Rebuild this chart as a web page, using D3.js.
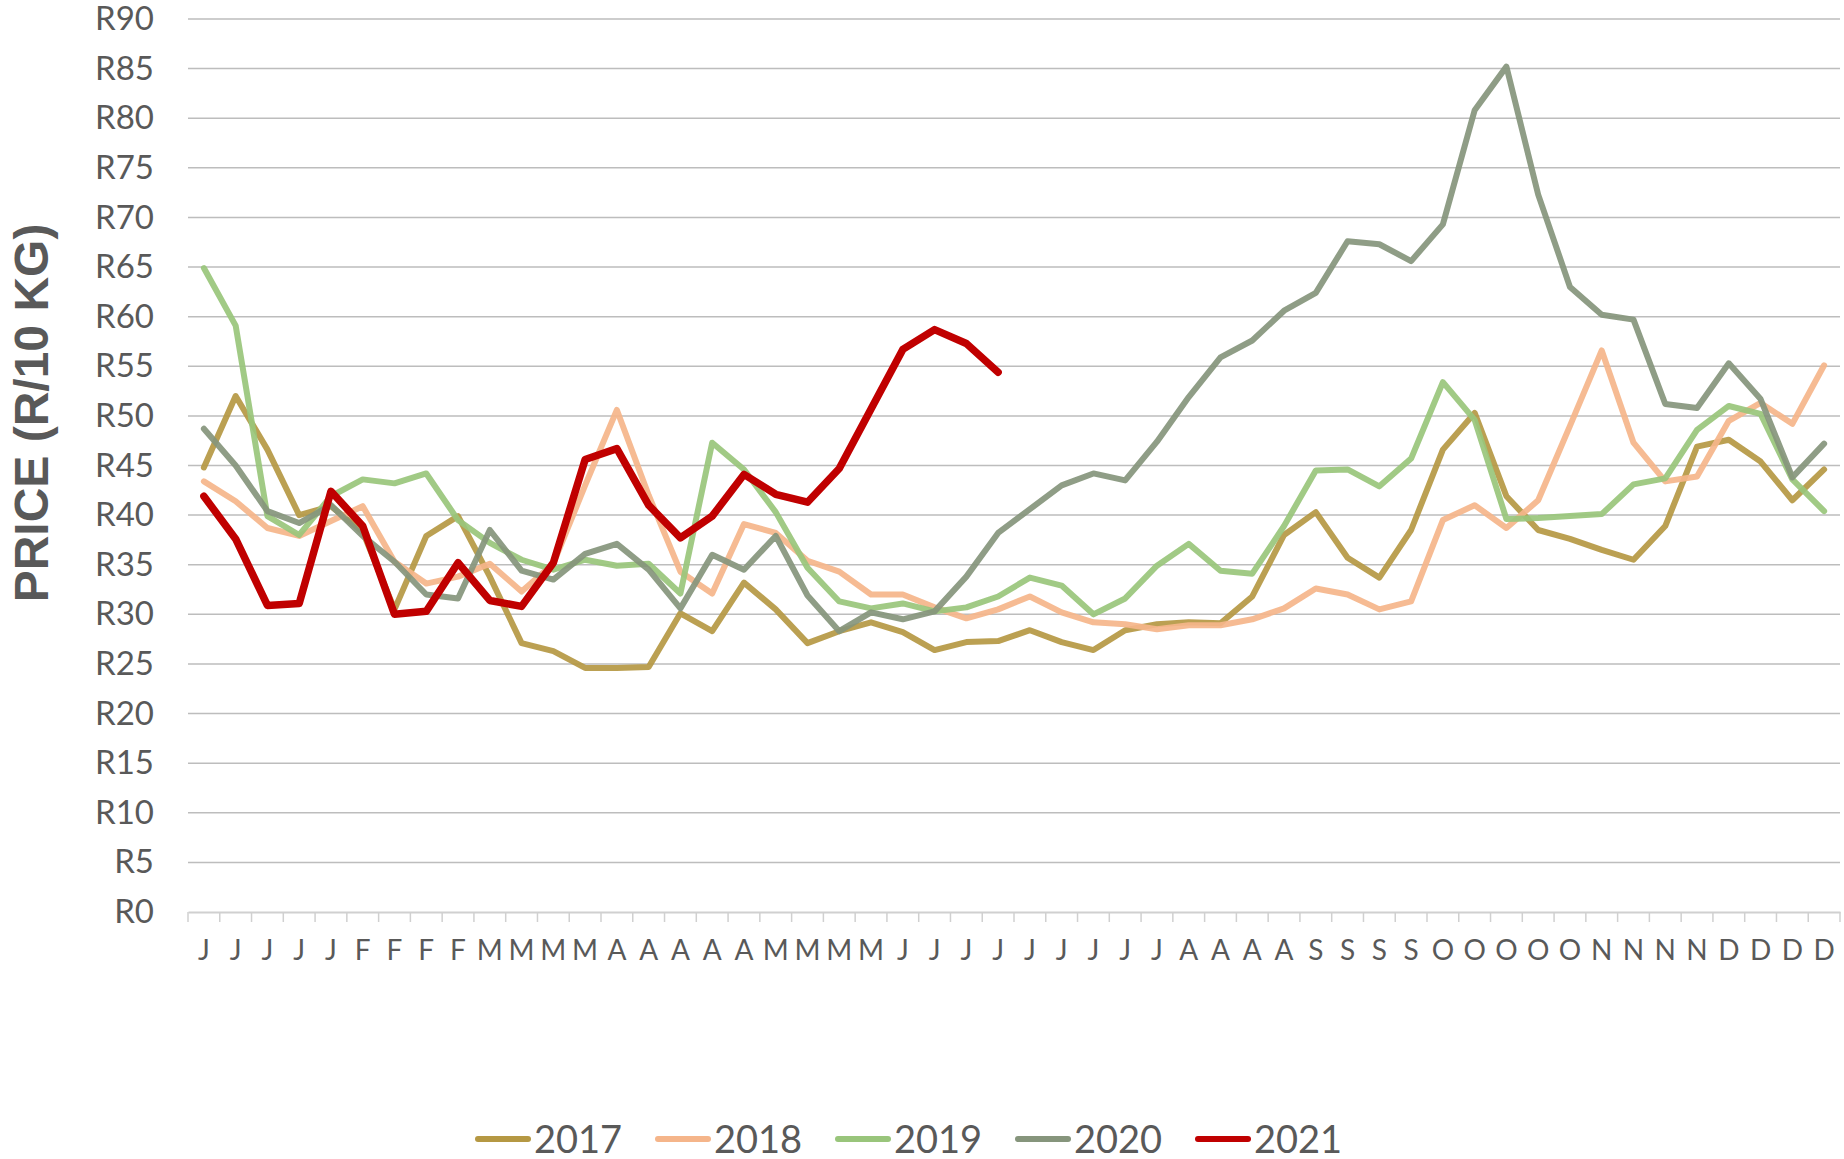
<!DOCTYPE html>
<html lang="en">

<head>
  <meta charset="UTF-8">
  <title>Weekly price R/10 kg, 2017-2021</title>
  <script src="https://d3js.org/d3.v7.min.js"></script>
  <style>
    html,
    body {
      margin: 0;
      background: #fff;
      font-family: Lato, "Open Sans", sans-serif;
    }

    svg text {
      fill: #595959;
    }
  </style>
</head>

<body>
  <svg id="chart" width="1844" height="1159"></svg>

  <script>
    const weekLabels = [
      "J", "J", "J", "J", "J", "F", "F", "F", "F", "M", "M", "M", "M",
      "A", "A", "A", "A", "A", "M", "M", "M", "M",
      "J", "J", "J", "J", "J", "J", "J", "J", "J",
      "A", "A", "A", "A", "S", "S", "S", "S", "O", "O", "O", "O", "O",
      "N", "N", "N", "N", "D", "D", "D", "D"
    ];

    const years = ["2017", "2018", "2019", "2020", "2021"];

    const p2017 = [44.8, 52.0, 46.6, 40.0, 40.9, 38.3, 30.5, 37.9, 39.9, 33.8, 27.1, 26.3, 24.6, 24.6, 24.7, 30.1, 28.3, 33.2, 30.5, 27.1, 28.3, 29.2, 28.2, 26.4, 27.2, 27.3, 28.4, 27.2, 26.4, 28.4, 29.0, 29.2, 29.1, 31.8, 38.0, 40.3, 35.7, 33.7, 38.5, 46.6, 50.3, 41.9, 38.5, 37.6, 36.5, 35.5, 38.9, 46.9, 47.6, 45.4, 41.5, 44.6];
    const p2018 = [43.4, 41.4, 38.7, 37.9, 39.4, 40.9, 35.3, 33.1, 33.8, 35.1, 32.3, 35.1, 43.0, 50.6, 42.0, 34.3, 32.1, 39.1, 38.2, 35.4, 34.3, 32.0, 32.0, 30.7, 29.6, 30.5, 31.8, 30.2, 29.2, 29.0, 28.5, 28.9, 28.9, 29.5, 30.6, 32.6, 32.0, 30.5, 31.3, 39.5, 41.0, 38.7, 41.5, 49.0, 56.6, 47.3, 43.4, 43.9, 49.5, 51.3, 49.2, 55.1];
    const p2019 = [64.9, 59.1, 39.9, 38.0, 41.9, 43.6, 43.2, 44.2, 39.5, 37.2, 35.5, 34.5, 35.5, 34.9, 35.1, 32.1, 47.3, 44.6, 40.3, 34.7, 31.3, 30.6, 31.1, 30.3, 30.7, 31.8, 33.7, 32.9, 30.0, 31.6, 34.9, 37.1, 34.4, 34.1, 38.9, 44.5, 44.6, 42.9, 45.7, 53.4, 49.6, 39.6, 39.7, 39.9, 40.1, 43.1, 43.7, 48.6, 51.0, 50.2, 43.6, 40.4];
    const p2020 = [48.7, 45.0, 40.4, 39.2, 41.0, 37.9, 35.3, 32.0, 31.6, 38.5, 34.4, 33.5, 36.1, 37.1, 34.5, 30.6, 36.0, 34.5, 37.9, 31.9, 28.3, 30.2, 29.5, 30.3, 33.8, 38.2, 40.6, 43.0, 44.2, 43.5, 47.4, 51.9, 55.9, 57.6, 60.6, 62.4, 67.6, 67.3, 65.6, 69.3, 80.8, 85.2, 72.3, 63.0, 60.2, 59.7, 51.2, 50.8, 55.3, 51.7, 43.8, 47.2];
    const p2021 = [41.9, 37.6, 30.9, 31.1, 42.4, 38.9, 30.0, 30.3, 35.2, 31.4, 30.8, 35.2, 45.6, 46.7, 41.0, 37.7, 39.9, 44.1, 42.1, 41.3, 44.7, 50.7, 56.7, 58.7, 57.3, 54.4];

    const yTicks = d3.range(0, 95, 5);

    const series = [
      { name: years[0], values: p2017, color: "#b59843", width: 6 },
      { name: years[1], values: p2018, color: "#f5b58a", width: 6 },
      { name: years[2], values: p2019, color: "#99c57b", width: 6 },
      { name: years[3], values: p2020, color: "#86957c", width: 6 },
      { name: years[4], values: p2021, color: "#c00000", width: 7.5 }
    ];

    const svg = d3.select("#chart");
    const margin = { left: 188, right: 4, top: 19, bottom: 247 };
    const width = 1844 - margin.left - margin.right;
    const height = 1159 - margin.top - margin.bottom;

    const g = svg.append("g")
      .attr("transform", `translate(${margin.left},${margin.top})`);

    const x = d3.scaleBand()
      .domain(d3.range(weekLabels.length))
      .range([0, width]);

    const y = d3.scaleLinear()
      .domain([0, 90])
      .range([height, 0]);

    // gridlines
    g.append("g")
      .selectAll("line")
      .data(yTicks.filter(d => d > 0))
      .enter().append("line")
      .attr("x1", 0)
      .attr("x2", width)
      .attr("y1", d => y(d))
      .attr("y2", d => y(d))
      .attr("stroke", "#bdbdbd")
      .attr("stroke-width", 1.5);

    // y axis labels
    const yAxis = g.append("g")
      .call(d3.axisLeft(y).tickValues(yTicks).tickSize(0).tickPadding(34).tickFormat(d => "R" + d));
    yAxis.select(".domain").remove();
    yAxis.selectAll("text")
      .style("font-size", "33px")
      .style("font-family", "Lato, sans-serif");

    // x axis, ticks sit between the weeks
    const xAxis = g.append("g")
      .attr("transform", `translate(0,${height})`)
      .call(d3.axisBottom(x).tickSize(0).tickPadding(28).tickFormat(i => weekLabels[i]));
    xAxis.select(".domain")
      .attr("stroke", "#d0d0d0")
      .attr("stroke-width", 2);
    xAxis.selectAll("text")
      .style("font-size", "28px")
      .style("font-family", "Lato, sans-serif");
    xAxis.selectAll(".sep")
      .data(d3.range(weekLabels.length + 1))
      .enter().append("line")
      .attr("class", "sep")
      .attr("x1", i => i * x.step())
      .attr("x2", i => i * x.step())
      .attr("y1", 0)
      .attr("y2", 10)
      .attr("stroke", "#d0d0d0")
      .attr("stroke-width", 1.5);

    const line = d3.line()
      .x((d, i) => x(i) + x.bandwidth() / 2)
      .y(d => y(d));

    g.selectAll(".series")
      .data(series)
      .enter().append("path")
      .attr("class", "series")
      .attr("d", d => line(d.values))
      .attr("fill", "none")
      .attr("stroke", d => d.color)
      .attr("stroke-width", d => d.width)
      .attr("stroke-linejoin", "round")
      .attr("stroke-linecap", "round")
      .attr("opacity", d => d.name === "2021" ? 1 : 0.92);

    // y axis title
    svg.append("text")
      .attr("transform", "translate(48,413) rotate(-90)")
      .attr("text-anchor", "middle")
      .style("font-family", "'Liberation Sans', Arial, sans-serif")
      .style("font-weight", "bold")
      .style("font-size", "48px")
      .text("PRICE (R/10 KG)");

    // legend
    const legend = svg.append("g")
      .attr("transform", "translate(475,1139)");

    const item = legend.selectAll("g")
      .data(series)
      .enter().append("g")
      .attr("transform", (d, i) => `translate(${i * 180},0)`);

    item.append("line")
      .attr("x1", 3)
      .attr("x2", 53)
      .attr("stroke", d => d.color)
      .attr("stroke-width", 6)
      .attr("stroke-linecap", "round");

    item.append("text")
      .attr("x", 59)
      .attr("dy", "0.36em")
      .style("font-size", "38px")
      .text(d => d.name);
  </script>
</body>

</html>
